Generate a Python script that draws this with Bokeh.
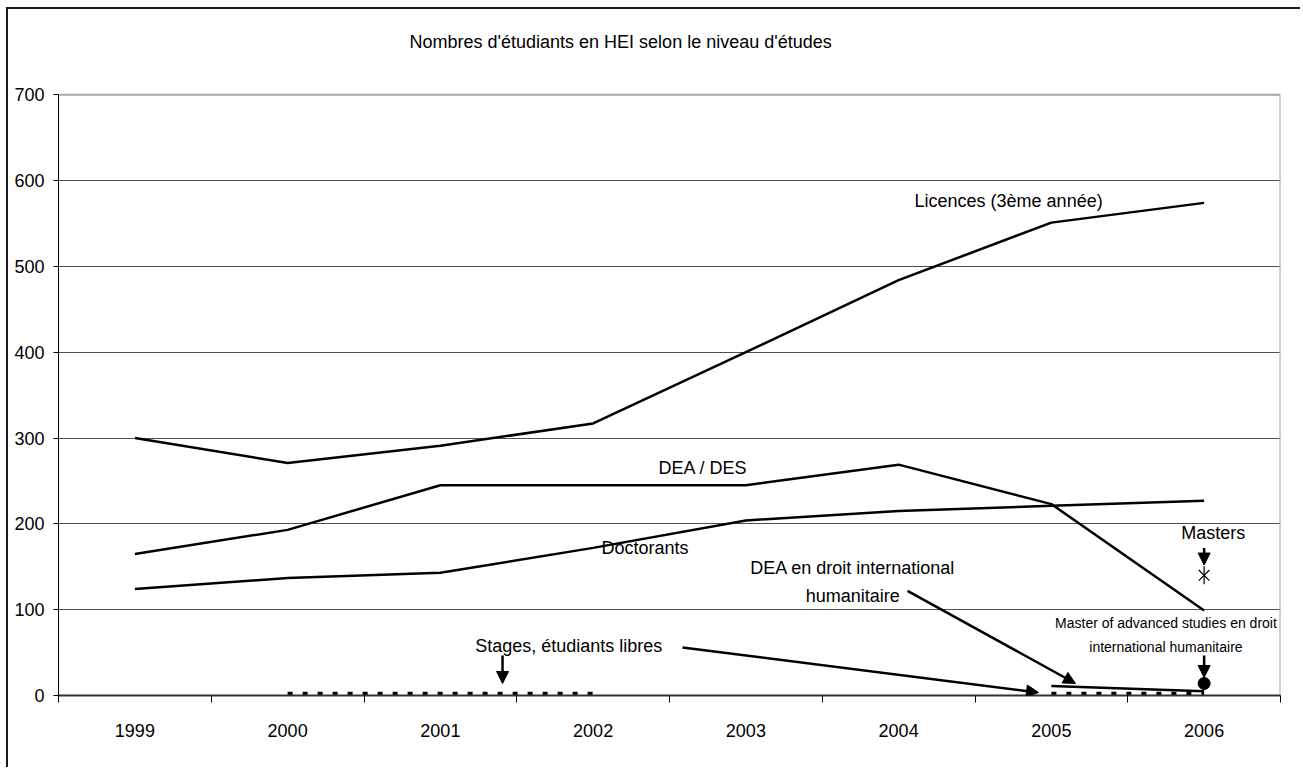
from bokeh.plotting import figure
from bokeh.models import Arrow, NormalHead, FixedTicker, Range1d
from bokeh.core.properties import value
from bokeh.embed import file_html
from bokeh.resources import INLINE

# ---- data ----
years = ["1999", "2000", "2001", "2002", "2003", "2004", "2005", "2006"]
licences = [300, 271, 291, 317, 400, 484, 551, 574]
dea_des = [165, 193, 245, 245, 245, 269, 223, 99]
doctorants = [124, 137, 143, 172, 204, 215, 221, 227]
stages = [float("nan"), 2, 2, 2, float("nan"), float("nan"), 2, 2]
dea_dih_years = ["2005", "2006"]
dea_dih = [11, 5]
masters_year = ["2006"]
masters = [140]
mas_dih_year = ["2006"]
mas_dih = [14]
y_ticks = [0, 100, 200, 300, 400, 500, 600, 700]

title_text = "Nombres d'étudiants en HEI selon le niveau d'études"

FONT = "Liberation Sans"
Y_MAX = 700
Y_VIEW = 790

idx = {y: i + 0.5 for i, y in enumerate(years)}
xs = [idx[y] for y in years]
n = len(years)

p = figure(width=1294, height=760, output_backend="svg", toolbar_location=None,
           x_range=Range1d(0, n), y_range=Range1d(0, Y_VIEW),
           min_border_left=50, min_border_top=8, min_border_right=22, min_border_bottom=74)
p.styles = {"border-left": "2px solid #1a1a1a", "border-top": "2px solid #1a1a1a",
            "margin-left": "6px", "margin-top": "7px"}
p.background_fill_color = "white"
p.border_fill_color = "white"
p.outline_line_color = None

# axes
p.xaxis.ticker = FixedTicker(ticks=xs, minor_ticks=list(range(n + 1)))
p.xaxis.major_label_overrides = {x: y for x, y in zip(xs, years)}
p.xaxis.major_tick_line_color = None
p.xaxis.major_tick_out = 0
p.xaxis.major_tick_in = 0
p.xaxis.minor_tick_out = 7
p.xaxis.minor_tick_in = 0
p.xaxis.minor_tick_line_color = "black"
p.xaxis.axis_line_color = "#333333"
p.xaxis.axis_line_width = 2
p.xaxis.major_label_standoff = 21
p.xaxis.major_label_text_font = FONT
p.xaxis.major_label_text_font_size = "18px"
p.xaxis.major_label_text_color = "black"

p.yaxis.ticker = FixedTicker(ticks=y_ticks)
p.yaxis.bounds = (0, Y_MAX)
p.yaxis.minor_tick_line_color = None
p.yaxis.major_tick_out = 5
p.yaxis.major_tick_in = 0
p.yaxis.major_tick_line_color = "black"
p.yaxis.axis_line_color = "black"
p.yaxis.major_label_standoff = 9
p.yaxis.major_label_text_font = FONT
p.yaxis.major_label_text_font_size = "18px"
p.yaxis.major_label_text_color = "black"

p.xgrid.grid_line_color = None
p.ygrid.ticker = FixedTicker(ticks=y_ticks[:-1])
p.ygrid.grid_line_color = "#505050"
p.ygrid.grid_line_width = 1

# plot-area frame: top gridline and right edge in light grey
p.segment(x0=[0, n], y0=[Y_MAX, 0], x1=[n, n], y1=[Y_MAX, Y_MAX],
          line_color="#a6a6a6", line_width=2)

# series
p.line(xs, licences, line_color="black", line_width=2.5)
p.line(xs, dea_des, line_color="black", line_width=2.5)
p.line(xs, doctorants, line_color="black", line_width=2.5)
p.line(xs, stages, line_color="black", line_width=4, line_dash="5 10")
p.line([idx[y] for y in dea_dih_years], dea_dih, line_color="black", line_width=2.5)
p.scatter([idx[y] for y in masters_year], masters, marker="x", size=15,
          line_color="black", line_width=1.2)
p.scatter([idx[y] for y in masters_year], masters, marker="dash", size=18, angle=1.5708,
          line_color="black", line_width=1.2)
p.scatter([idx[y] for y in mas_dih_year], mas_dih, marker="circle", size=12,
          fill_color="black", line_color="black")

# title
p.text([3.68], [761], text=[title_text], text_font=value(FONT), text_font_size="18px",
       text_align="center", text_baseline="middle", text_color="black")

# text labels (data positions)
lab_text = ["Licences (3ème année)", "DEA / DES", "Doctorants",
            "DEA en droit international", "humanitaire",
            "Stages, étudiants libres", "Masters"]
lab_x = [6.22, 4.22, 3.84, 5.2, 5.2, 3.34, 7.56]
lab_y = [576, 265, 172, 148, 116, 58, 189]
p.text(lab_x, lab_y, text=lab_text, text_font=value(FONT), text_font_size="18px",
       text_align="center", text_baseline="middle", text_color="black")

small_text = ["Master of advanced studies en droit", "international humanitaire"]
small_x = [7.25, 7.25]
small_y = [84, 57]
p.text(small_x, small_y, text=small_text, text_font=value(FONT), text_font_size="14px",
       text_align="center", text_baseline="middle", text_color="black")

# arrows
arr_x0 = [7.5, 7.5, 2.907, 4.085, 5.558]
arr_y0 = [172, 46.6, 46.6, 56, 122]
arr_x1 = [7.5, 7.5, 2.907, 6.416, 6.658]
arr_y1 = [152, 21, 14, 3.5, 14]
for a, b, c, d in zip(arr_x0, arr_y0, arr_x1, arr_y1):
    p.add_layout(Arrow(end=NormalHead(size=12, fill_color="black", line_color="black"),
                       x_start=a, y_start=b, x_end=c, y_end=d,
                       line_color="black", line_width=2.5))

open("out.html", "w").write(file_html(p, INLINE))
